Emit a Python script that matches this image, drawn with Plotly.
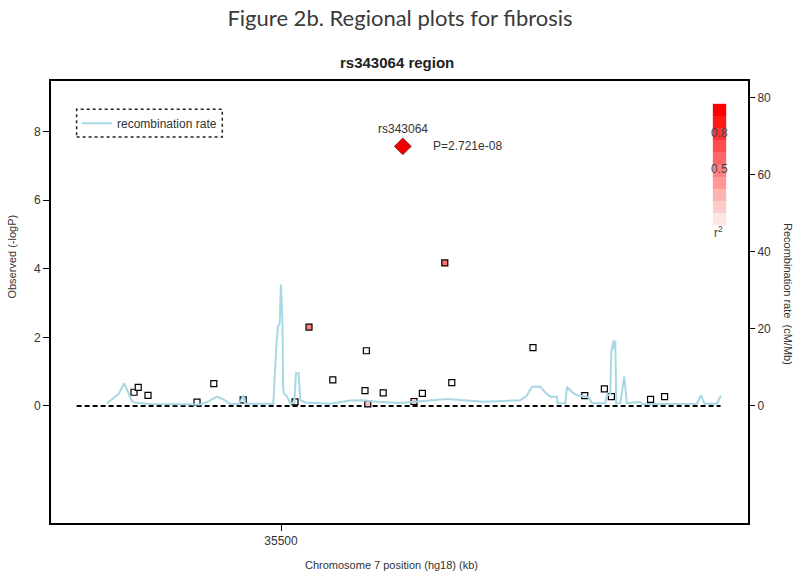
import plotly.graph_objects as go

# SNP positions (kb, hg18) and -log10(P), r2 with lead SNP
snp_kb = [35395, 35398, 35405, 35440, 35452, 35473, 35510, 35520, 35537,
          35560, 35561, 35562, 35573, 35595, 35601, 35617, 35622, 35680,
          35717, 35731, 35736, 35764, 35774]
snp_logp = [0.40, 0.54, 0.31, 0.11, 0.65, 0.18, 0.12, 2.30, 0.76,
            0.45, 1.61, 0.06, 0.38, 0.13, 0.37, 4.17, 0.68, 1.70,
            0.30, 0.50, 0.27, 0.19, 0.27]
snp_r2 = [0, 0, 0, 0, 0, 0, 0, 0.5, 0,
          0, 0.05, 0.25, 0, 0.25, 0, 0.55, 0, 0,
          0, 0, 0, 0, 0]

lead_name = "rs343064"
lead_kb = 35587
lead_p = 2.721e-08
lead_logp = 7.565

# recombination rate (cM/Mb)
recomb_kb = [35375.7, 35383.8, 35388.1, 35390.2, 35393.1, 35395.2, 35406.6,
             35442.4, 35448.1, 35454.3, 35459.5, 35463.8, 35469.5, 35471.6,
             35473.1, 35474.5, 35494.5, 35496.6, 35497.7, 35499.1, 35499.9,
             35500.6, 35501.1, 35501.5, 35502.0, 35504.1, 35506.6, 35509.5,
             35510.7, 35512.6, 35513.8, 35517.4, 35535.2, 35549.5, 35558.8,
             35570.9, 35585.2, 35599.5, 35618.6, 35644.5, 35670.9, 35675.2,
             35679.3, 35685.2, 35688.8, 35692.4, 35697.1, 35697.6, 35703.1,
             35704.3, 35708.1, 35711.4, 35718.6, 35720.2, 35722.1, 35731.6,
             35732.9, 35735.2, 35735.9, 35737.6, 35738.2, 35738.8, 35739.5,
             35742.4, 35743.8, 35745.2, 35747.1, 35756.6, 35758.1, 35797.1,
             35800.0, 35802.6, 35811.4, 35814.3]
recomb_rate = [0.7, 3.0, 5.9, 4.0, 1.5, 0.9, 0.5,
               0.4, 1.2, 2.4, 1.6, 0.5, 0.5, 1.5,
               2.8, 0.6, 0.6, 15.0, 20.5, 21.5, 31.5,
               26.0, 21.0, 5.0, 3.2, 2.6, 0.8, 0.8,
               8.5, 8.5, 1.5, 0.9, 0.6, 1.4, 1.5,
               1.0, 0.8, 1.2, 1.8, 1.1, 1.5, 2.5,
               5.0, 5.0, 3.5, 2.4, 2.4, 0.7, 0.7,
               5.0, 3.5, 2.8, 2.4, 2.0, 0.7, 0.7,
               2.8, 3.0, 14.0, 17.0, 14.5, 17.0, 0.7,
               0.8, 4.0, 7.6, 0.7, 1.0, 0.5, 0.6,
               2.8, 0.6, 0.6, 2.7]

region_kb = [35354, 35814]
x_range = [35335.7, 35833.6]
logp_range = [-3.41, 9.47]
rate_per_logp = 8.9

r2_levels = [0.1, 0.2, 0.3, 0.4, 0.5, 0.6, 0.7, 0.8, 0.9, 1.0]

R2_SCALE = [[0, "#ffffff"], [1, "#ff0000"]]
BLUE = "#a8d8e4"
FONT = "Liberation Sans, Arial, sans-serif"
GREY = "#333333"

L, R, T, B = 50.7, 747.7, 80.7, 522.7


def px(x):
    return (x - L) / (R - L)


def py(y):
    return (B - y) / (B - T)


def note(x, y, text, size=11, color=GREY, angle=0):
    fig.add_annotation(x=px(x), y=py(y), xref="paper", yref="paper", text=text,
                       textangle=angle, showarrow=False, xanchor="center", yanchor="middle",
                       font=dict(size=size, color=color))


fig = go.Figure()

fig.add_trace(go.Scatter(
    x=recomb_kb, y=recomb_rate, mode="lines", name="recombination rate",
    line=dict(color=BLUE, width=2), yaxis="y2", hoverinfo="skip"))

fig.add_trace(go.Scatter(
    x=region_kb, y=[0, 0], mode="lines", showlegend=False,
    line=dict(color="black", width=2, dash="5px,3px"), hoverinfo="skip"))

fig.add_trace(go.Scatter(
    x=snp_kb, y=snp_logp, mode="markers", showlegend=False,
    marker=dict(symbol="square", size=6, color=snp_r2, colorscale=R2_SCALE,
                cmin=0, cmax=1, line=dict(color="black", width=1.2))))

fig.add_trace(go.Scatter(
    x=[lead_kb], y=[lead_logp], mode="markers", showlegend=False,
    marker=dict(symbol="diamond", size=13, color="#ee0000",
                line=dict(color="#550000", width=0.6))))

# r2 colour key
fig.add_trace(go.Heatmap(
    x=[0], y=[v - 0.05 for v in r2_levels], z=[[v] for v in r2_levels],
    colorscale=R2_SCALE, zmin=0, zmax=1, showscale=False,
    xaxis="x3", yaxis="y3", hoverinfo="skip"))

fig.add_annotation(x=lead_kb, y=lead_logp, text=lead_name, showarrow=False,
                   yshift=17, font=dict(size=12, color=GREY))
fig.add_annotation(x=lead_kb, y=lead_logp, text=f"P={lead_p:.3e}", showarrow=False,
                   xanchor="left", xshift=28, font=dict(size=12, color=GREY))

for lbl, yv in [("0.8", 0.76), ("0.5", 0.46)]:
    fig.add_annotation(x=0, y=yv, xref="x3", yref="y3", text=lbl, showarrow=False,
                       xanchor="center", yanchor="middle", font=dict(size=12, color="#444"))
note(718, 232, "r<sup>2</sup>", size=12, color="#444")

note(397, 62, "<b>rs343064 region</b>", size=15, color="#222")
note(12, 256, "Observed (-logP)", angle=-90)
note(787, 294, "Recombination rate  (cM/Mb)", angle=90)
note(391, 565, "Chromosome 7 position (hg18) (kb)")

# dotted legend frame
fig.add_shape(type="rect", xref="paper", yref="paper", x0=px(76.3), x1=px(222),
              y0=py(136.7), y1=py(109), line=dict(color="#222", width=1.5, dash="dot"))

axis_common = dict(showgrid=False, zeroline=False, ticks="outside", ticklen=6,
                   tickcolor="black", tickfont=dict(size=12, color=GREY, family=FONT))

fig.update_layout(
    width=800, height=578, margin=dict(l=L, r=800 - R, t=T, b=578 - B),
    plot_bgcolor="white", paper_bgcolor="white", font=dict(family=FONT),
    title=dict(text="Figure 2b. Regional plots for fibrosis", x=0.5, xanchor="center",
               y=1 - 18 / 578, yanchor="middle",
               font=dict(family="Lato, Carlito, sans-serif", size=22, color="#3a3a3a")),
    xaxis=dict(range=x_range, tickvals=[35500], ticktext=["35500"], showline=True,
               linecolor="black", linewidth=2, mirror=True, **axis_common),
    yaxis=dict(range=logp_range, tickvals=[0, 2, 4, 6, 8], showline=True,
               linecolor="black", linewidth=2, mirror=True, **axis_common),
    yaxis2=dict(range=[v * rate_per_logp for v in logp_range], tickvals=[0, 20, 40, 60, 80],
                overlaying="y", side="right", showline=False, **axis_common),
    xaxis3=dict(domain=[px(712.3), px(726)], range=[-0.5, 0.5], visible=False, anchor="y3"),
    yaxis3=dict(domain=[py(225), py(103.3)], range=[0, 1], visible=False, anchor="x3"),
    legend=dict(x=px(76.7), y=py(123), xanchor="left", yanchor="middle",
                bgcolor="rgba(0,0,0,0)", font=dict(size=12, color=GREY)),
    showlegend=True,
)

fig.write_html("out.html", config={"displayModeBar": False},
               post_script="document.body.style.margin='0';")
